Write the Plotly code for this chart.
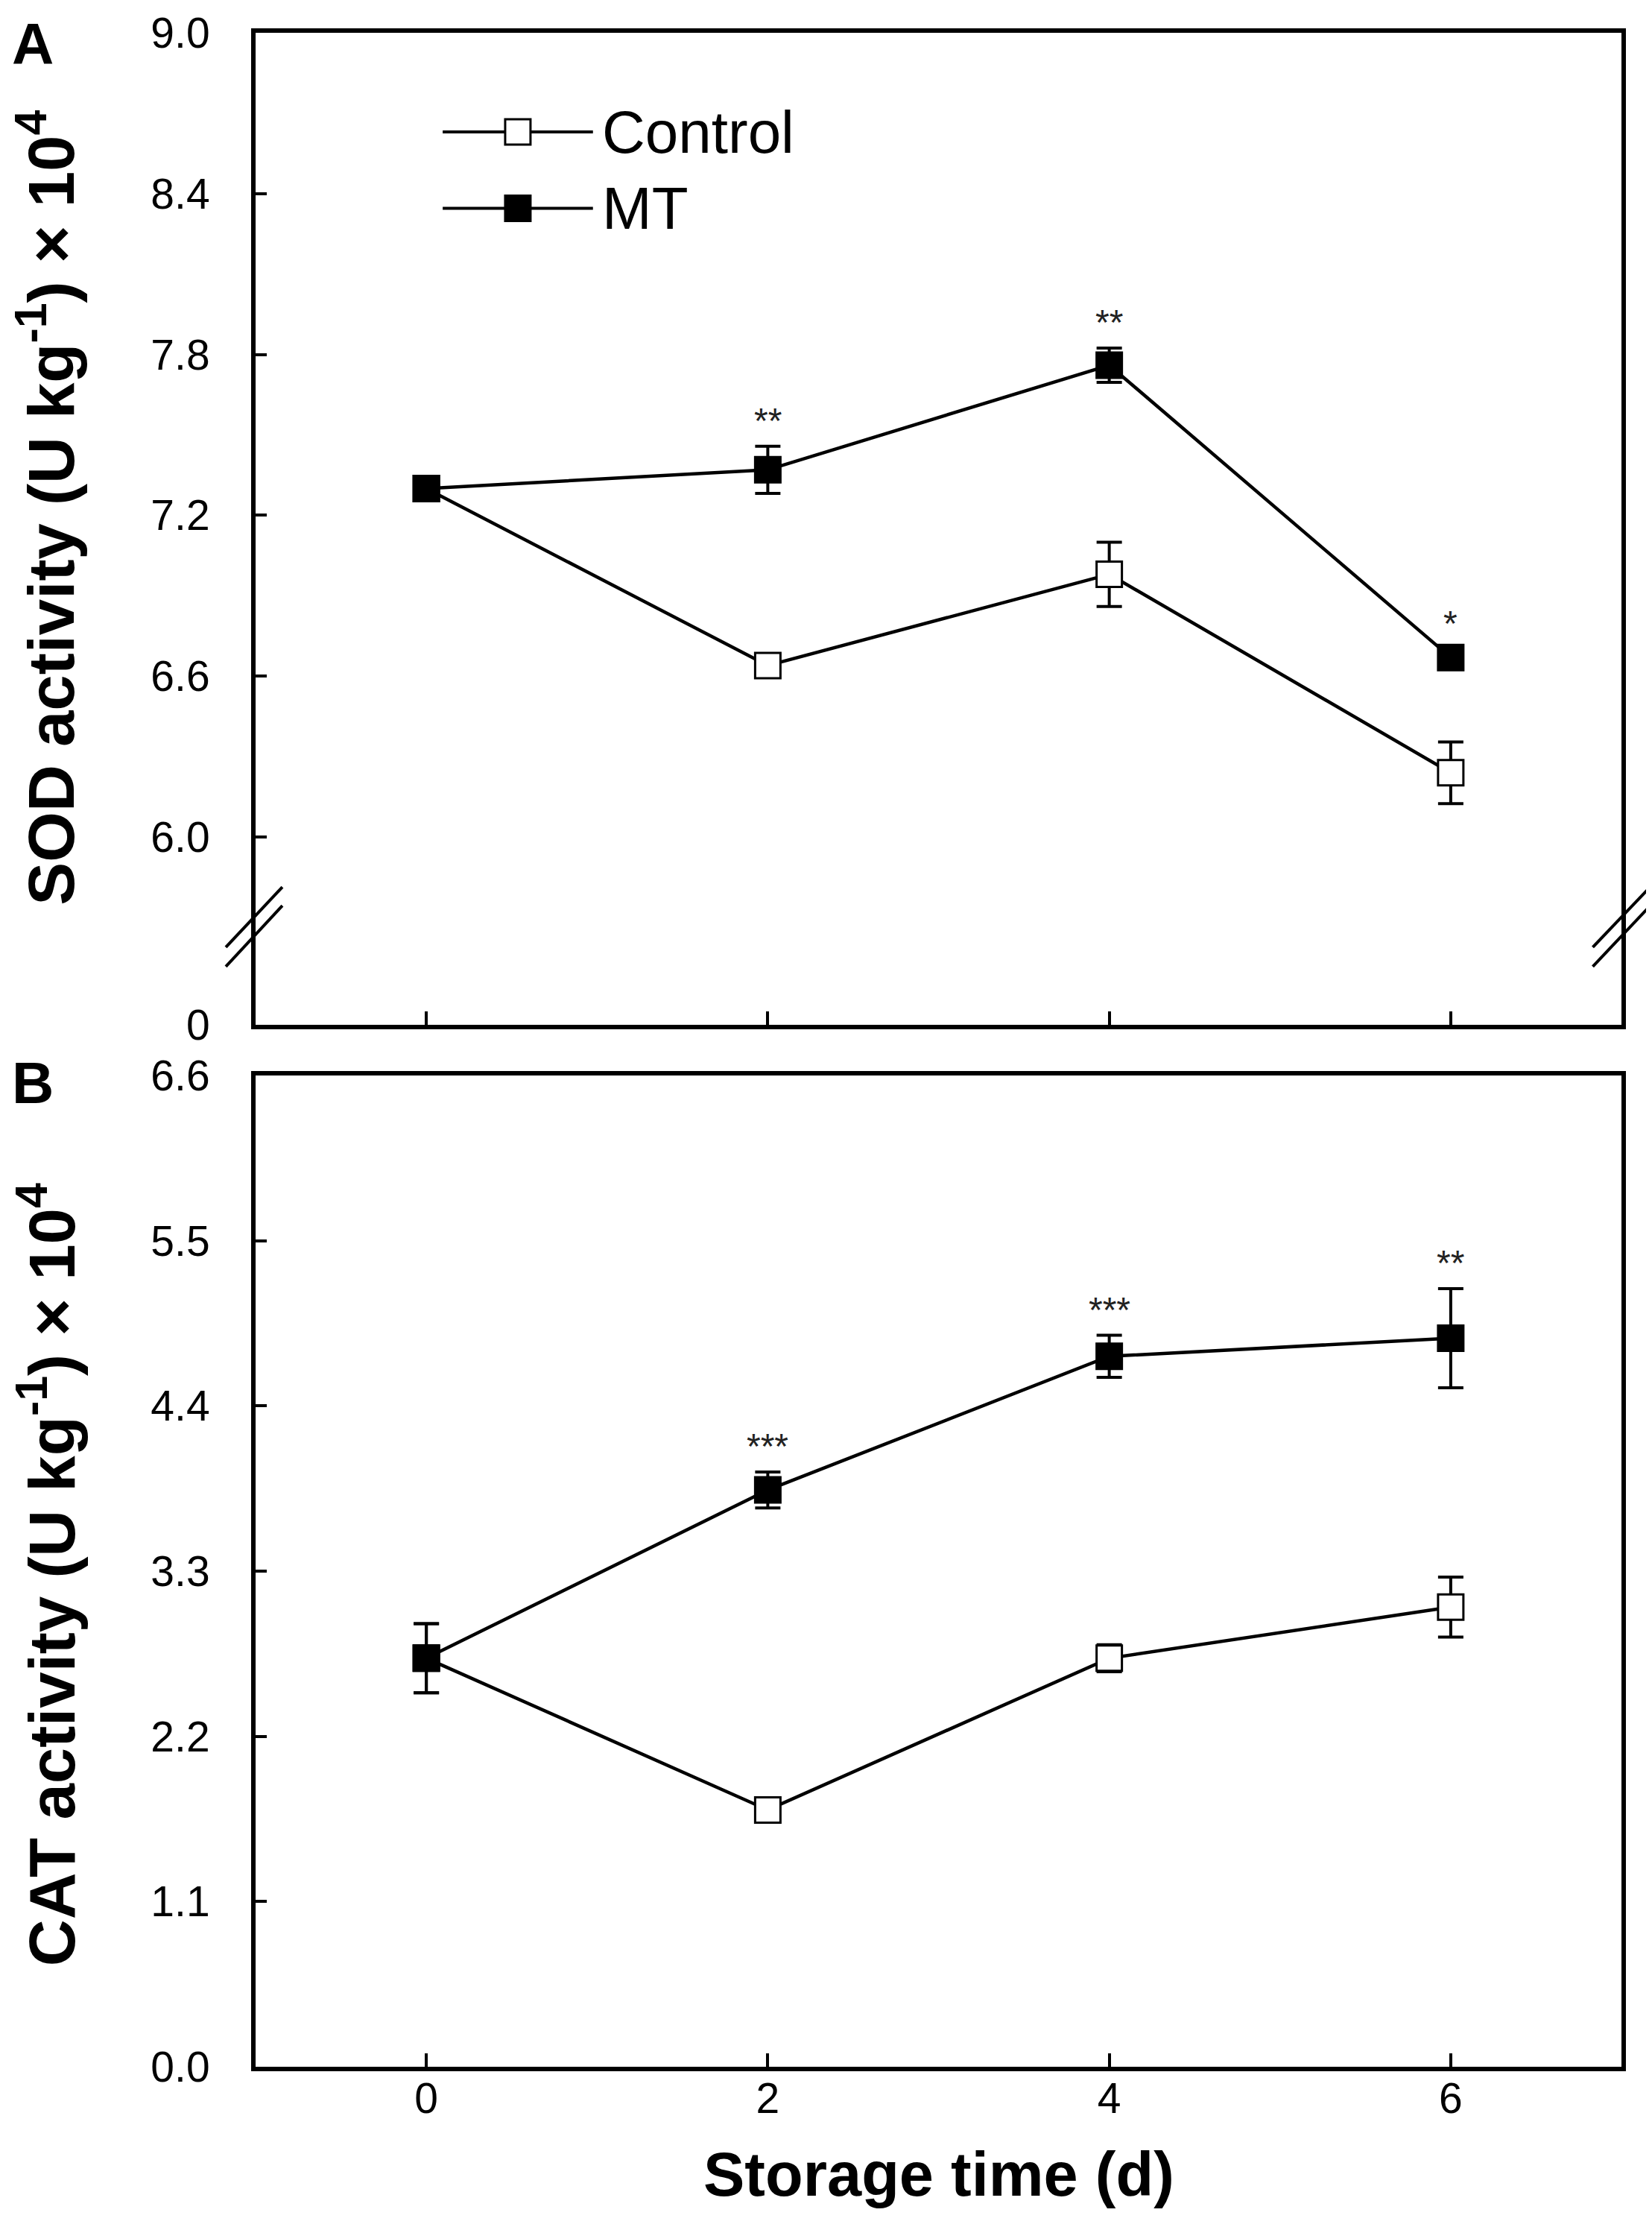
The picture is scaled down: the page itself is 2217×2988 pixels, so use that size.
import plotly.graph_objects as go
from plotly.subplots import make_subplots

# storage time (d)
days = [0, 2, 4, 6]

# panel A: SOD activity (U kg-1) x 10^4
sod_control = [7.30, 6.64, 6.98, 6.24]
sod_control_err = [0.02, 0.02, 0.12, 0.115]
sod_mt = [7.30, 7.37, 7.76, 6.67]
sod_mt_err = [0.02, 0.088, 0.064, 0.03]
sod_stars = ["", "**", "**", "*"]

# panel B: CAT activity (U kg-1) x 10^4
cat_control = [2.72, 1.71, 2.72, 3.06]
cat_control_err = [0.23, 0.04, 0.09, 0.20]
cat_mt = [2.72, 3.84, 4.73, 4.85]
cat_mt_err = [0.23, 0.12, 0.14, 0.33]
cat_stars = ["", "***", "***", "**"]

# broken SOD axis: the bottom of the frame stands for 0
sod_axis_bottom = 5.30
sod_tickvals = [sod_axis_bottom, 6.0, 6.6, 7.2, 7.8, 8.4, 9.0]
sod_ticktext = ["0", "6.0", "6.6", "7.2", "7.8", "8.4", "9.0"]
cat_tickvals = [0.0, 1.1, 2.2, 3.3, 4.4, 5.5, 6.6]
cat_ticktext = ["%.1f" % v for v in cat_tickvals]

FONT = "Liberation Sans, Arial, sans-serif"
W, H = 2217, 2988
L, R, T, B = 335, 49, 36, 223

fig = make_subplots(rows=2, cols=1)


def add_series(row, y, err, filled):
    fig.add_trace(go.Scatter(
        x=days, y=y, mode="lines+markers",
        line=dict(color="black", width=4.5),
        marker=dict(symbol="square", size=34,
                    color="black" if filled else "white",
                    line=dict(color="black", width=3)),
        error_y=dict(type="data", array=err, visible=True,
                     color="black", thickness=4, width=17),
        showlegend=False,
    ), row=row, col=1)


add_series(1, sod_control, sod_control_err, False)
add_series(1, sod_mt, sod_mt_err, True)
add_series(2, cat_control, cat_control_err, False)
add_series(2, cat_mt, cat_mt_err, True)

axis_common = dict(showline=True, linecolor="black", linewidth=6, mirror=True,
                   showgrid=False, zeroline=False, ticks="inside",
                   tickcolor="black", tickwidth=4,
                   tickfont=dict(family=FONT, size=57, color="black"))

fig.update_xaxes(range=[-1, 7], tickvals=days, ticklen=18, **axis_common)
fig.update_xaxes(showticklabels=False, row=1, col=1)
fig.update_xaxes(ticklabelstandoff=-12, row=2, col=1)
fig.update_yaxes(ticklen=15, ticklabelstandoff=44, **axis_common)
fig.update_yaxes(domain=[0.5123, 1.0], range=[sod_axis_bottom, 9.0],
                 tickvals=sod_tickvals, ticktext=sod_ticktext, row=1, col=1)
fig.update_yaxes(domain=[0.0, 0.4874], range=[0, 6.6],
                 tickvals=cat_tickvals, ticktext=cat_ticktext, row=2, col=1)

annotations = []

# significance stars above MT error bars
for xref, yref, vals, errs, stars in (("x", "y", sod_mt, sod_mt_err, sod_stars),
                                      ("x2", "y2", cat_mt, cat_mt_err, cat_stars)):
    for d, v, e, s in zip(days, vals, errs, stars):
        if s:
            annotations.append(dict(x=d, y=v + e, xref=xref, yref=yref, text=s,
                                    showarrow=False, yanchor="bottom", yshift=6,
                                    font=dict(family=FONT, size=48, color="#222")))

# panel letters and axis titles
annotations += [
    dict(x=-0.1795, y=1.0115, xref="paper", yref="paper", text="<b>A</b>",
         xanchor="left", yanchor="top", showarrow=False,
         font=dict(family=FONT, size=78, color="black")),
    dict(x=-0.1795, y=0.5005, xref="paper", yref="paper", text="<b>B</b>",
         xanchor="left", yanchor="top", showarrow=False,
         font=dict(family=FONT, size=78, color="black")),
    dict(x=-0.1530, y=0.7665, xref="paper", yref="paper", textangle=-90,
         text="<b>SOD activity (U kg<sup>-1</sup>) × 10<sup>4</sup></b>",
         xanchor="center", yanchor="middle",
         showarrow=False, font=dict(family=FONT, size=87, color="black")),
    dict(x=-0.1530, y=0.2420, xref="paper", yref="paper", textangle=-90,
         text="<b>CAT activity (U kg<sup>-1</sup>) × 10<sup>4</sup></b>",
         xanchor="center", yanchor="middle",
         showarrow=False, font=dict(family=FONT, size=87, color="black")),
    dict(x=0.5, y=-0.0530, xref="paper", yref="paper",
         text="<b>Storage time (d)</b>", showarrow=False,
         xanchor="center", yanchor="middle",
         font=dict(family=FONT, size=83, color="black")),
]

# hand-made legend in panel A
shapes = []
legend_rows = [("Control", 0.900, "white"), ("MT", 0.823, "black")]
mw, mh = 34 / (W - L - R), 34 / 1331
for label, yy, fill in legend_rows:
    shapes.append(dict(type="line", xref="x domain", yref="y domain",
                       x0=0.137, x1=0.247, y0=yy, y1=yy,
                       line=dict(color="black", width=4)))
    shapes.append(dict(type="rect", xref="x domain", yref="y domain",
                       x0=0.192 - mw / 2, x1=0.192 + mw / 2,
                       y0=yy - mh / 2, y1=yy + mh / 2,
                       fillcolor=fill, line=dict(color="black", width=3)))
    annotations.append(dict(x=0.2526, y=yy, xref="x domain", yref="y domain",
                            text=label, xanchor="left", yanchor="middle",
                            showarrow=False,
                            font=dict(family=FONT, size=80, color="black")))

# axis break marks on both sides of panel A
for x0, x1 in ((-0.0218, 0.0196), (0.979, 1.021)):
    for y0, y1 in ((5.589, 5.814), (5.517, 5.744)):
        shapes.append(dict(type="line", xref="x domain", yref="y",
                           x0=x0, x1=x1, y0=y0, y1=y1,
                           line=dict(color="black", width=4)))

fig.update_layout(width=W, height=H,
                  margin=dict(l=L, r=R, t=T, b=B, autoexpand=False),
                  paper_bgcolor="white", plot_bgcolor="white",
                  annotations=annotations, shapes=shapes)

fig.write_html("out.html")
